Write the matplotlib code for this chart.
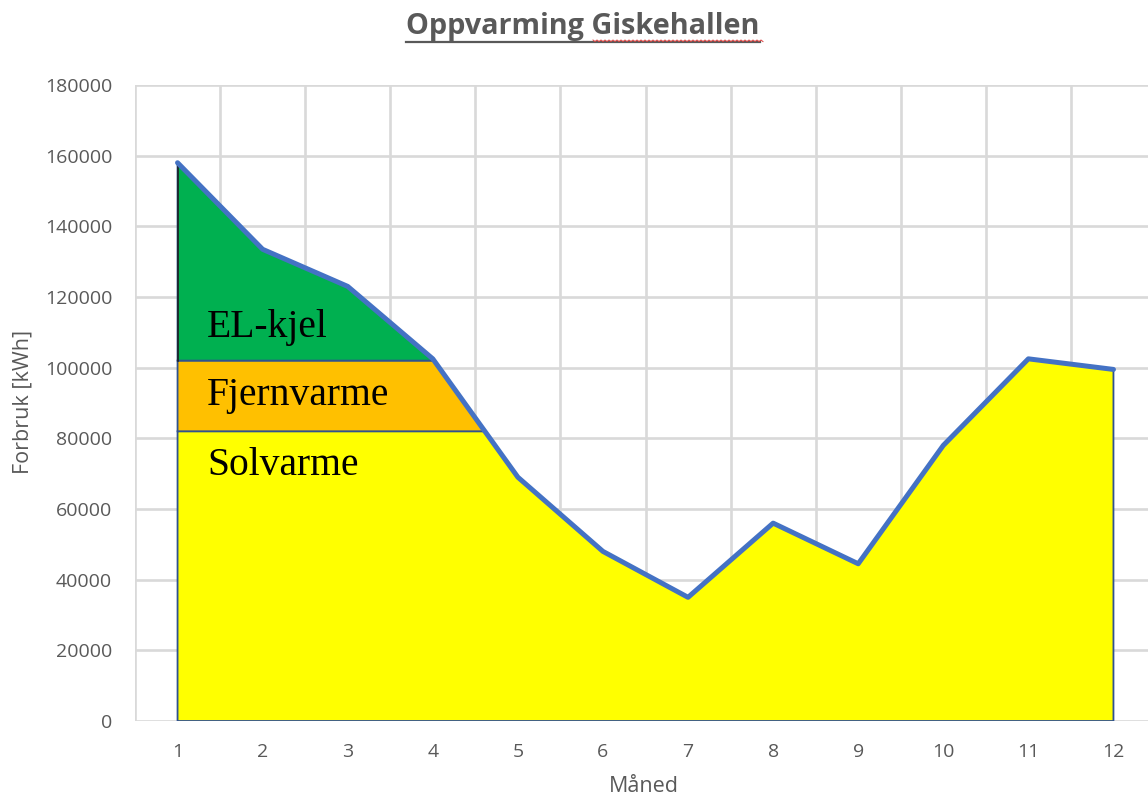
import numpy as np
import matplotlib
matplotlib.use("Agg")
import matplotlib.pyplot as plt
from matplotlib.lines import Line2D

# Monthly heating consumption (kWh)
months = [1, 2, 3, 4, 5, 6, 7, 8, 9, 10, 11, 12]
forbruk = [158000, 133500, 123000, 102500, 69000, 48000, 35000, 56000, 44500, 78000, 102500, 99500]

# Supply layers: solar heat up to the first cap, district heating to the second, electric boiler above
solvarme_cap = 82000
fjernvarme_cap = 102000
layer_names = ["EL-kjel", "Fjernvarme", "Solvarme"]
layer_colors = ["#00B050", "#FFC000", "#FFFF00"]

y_ticks = [0, 20000, 40000, 60000, 80000, 100000, 120000, 140000, 160000, 180000]

title = "Oppvarming Giskehallen"
xlabel = "Måned"
ylabel = "Forbruk [kWh]"

gray = "#595959"
grid_col = "#D9D9D9"
edge_col = "#2F528F"
line_col = "#4472C4"

W, H = 1148, 797
fig = plt.figure(figsize=(W / 100, H / 100), dpi=100)
ax = fig.add_axes([135 / W, (H - 721) / H, 1021 / W, 636 / H])
ax.set_xlim(0.5, 12.5)
ax.set_ylim(0, 180000)

# Grid: horizontal at value ticks, vertical between categories
ax.set_yticks(y_ticks)
ax.set_xticks(months)
ax.set_xticks(np.arange(0.5, 13.0, 1.0), minor=True)
for s in ax.spines.values():
    s.set_visible(False)
ax.grid(axis="y", which="major", color=grid_col, lw=1.9)
ax.grid(axis="x", which="minor", color=grid_col, lw=1.9)
ax.grid(axis="x", which="major", visible=False)
ax.tick_params(which="both", length=0)
ax.tick_params(axis="y", pad=16.5, labelsize=14, labelcolor=gray)
ax.tick_params(axis="x", pad=16, labelsize=14, labelcolor=gray)
for lab in ax.get_xticklabels() + ax.get_yticklabels():
    lab.set_fontfamily("Open Sans")
ax.set_axisbelow(True)

# Layered areas under the consumption curve
xs = np.linspace(months[0], months[-1], 4000)
ys = np.interp(xs, months, forbruk)
x_cross = xs[np.nonzero(ys <= solvarme_cap)[0][0]]
split = xs < x_cross

sol_top = np.where(split, np.minimum(ys, solvarme_cap), ys)
ax.fill(np.r_[xs[0], xs, xs[-1]], np.r_[0, sol_top, 0],
        facecolor=layer_colors[2], edgecolor=edge_col, lw=1.3, zorder=2)

fx = xs[split]
fj_top = np.minimum(ys[split], fjernvarme_cap)
ax.fill(np.r_[fx[0], fx, x_cross], np.r_[solvarme_cap, fj_top, solvarme_cap],
        facecolor=layer_colors[1], edgecolor=edge_col, lw=1.3, zorder=2)

gmask = ys > fjernvarme_cap
gmask &= xs < x_cross
gx = xs[gmask]
gy = ys[gmask]
ax.fill(np.r_[gx[0], gx, gx[-1]], np.r_[fjernvarme_cap, gy, fjernvarme_cap],
        facecolor=layer_colors[0], edgecolor=edge_col, lw=1.3, zorder=2)
ax.plot([gx[0], gx[0]], [fjernvarme_cap, gy[0]], color="#1a1a1a", lw=1.1, zorder=3)

# Consumption line
ax.plot(months, forbruk, color=line_col, lw=3.6, solid_capstyle="round",
        solid_joinstyle="round", zorder=4)

# Layer labels
label_y = [108700, 89400, 69600]
for name, ly in zip(layer_names, label_y):
    ax.text(1.346, ly, name, fontsize=28.5, family="Liberation Serif",
            color="black", va="baseline", ha="left", zorder=5)

# Axis titles
fig.text(23 / W, 1 - 402 / H, ylabel, rotation=90, ha="center", va="center",
         fontsize=15.5, color=gray, family="Open Sans")
fig.text(644 / W, 1 - 786 / H, xlabel, ha="center", va="center",
         fontsize=15.5, color=gray, family="Open Sans")

# Underlined chart title
t = fig.text(583 / W, 1 - 34 / H, title, ha="center", va="baseline",
             fontsize=20.8, color=gray, family="Open Sans", weight="bold")
fig.canvas.draw()
bb = t.get_window_extent()
uy = 1 - 42 / H
fig.add_artist(Line2D([bb.x0 / W, bb.x1 / W], [uy, uy], color=gray, lw=1.6,
                      transform=fig.transFigure))
# Spell-check squiggle under the second word
wx0, wx1 = 593, 763
zx = np.arange(wx0, wx1 + 1, 2.0)
zy = 40 + np.where(np.arange(zx.size) % 2 == 0, 0.0, 1.6)
fig.add_artist(Line2D(zx / W, 1 - zy / H, color="#E04040", lw=0.7,
                      transform=fig.transFigure))

fig.savefig("out.png", dpi=100)
